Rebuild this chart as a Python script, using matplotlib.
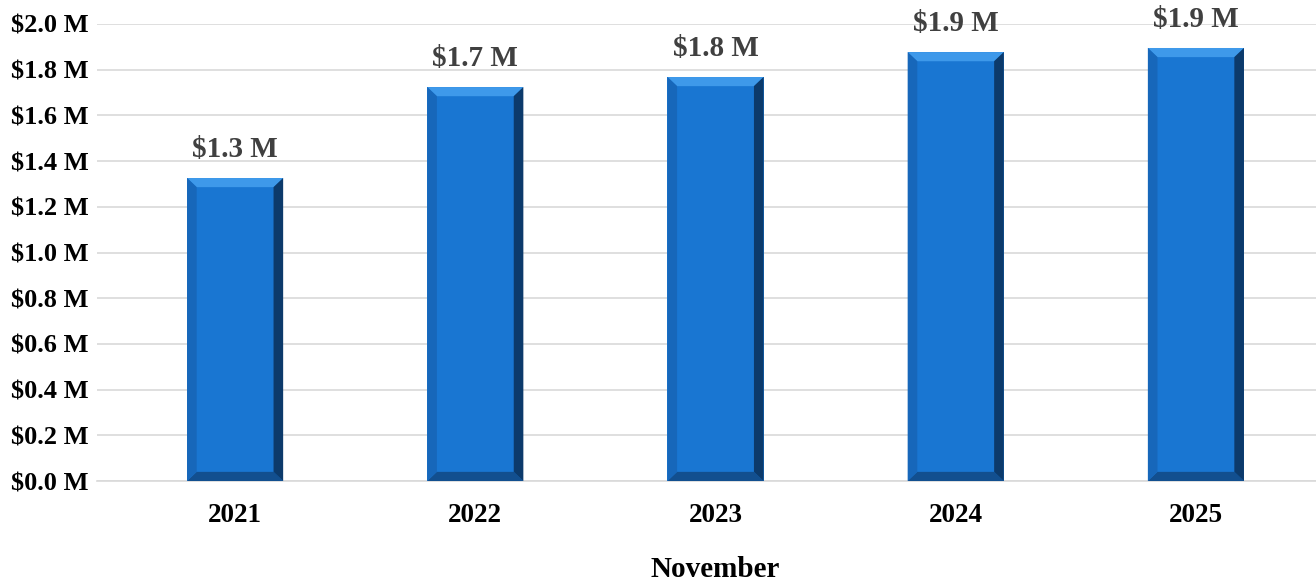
import matplotlib.pyplot as plt
from matplotlib.patches import Polygon

# November sales by year, in millions of dollars
years = ["2021", "2022", "2023", "2024", "2025"]
sales = [1.326, 1.724, 1.768, 1.877, 1.895]
y_ticks = [0.0, 0.2, 0.4, 0.6, 0.8, 1.0, 1.2, 1.4, 1.6, 1.8, 2.0]

plt.rcParams['font.family'] = ['Liberation Serif', 'DejaVu Serif']

fig = plt.figure(figsize=(13.16, 5.82), dpi=100)
ax = fig.add_axes([97 / 1316, 1 - 481 / 582, 1219 / 1316, 457 / 582])

x = range(len(years))
bars = ax.bar(x, sales, width=0.4, color="#1976D2", zorder=3)

# bevelled edges on each bar
bx, by = 0.04, 0.04
for rect in bars:
    x0 = rect.get_x()
    x1 = x0 + rect.get_width()
    h = rect.get_height()
    faces = [
        ([(x0, h), (x1, h), (x1 - bx, h - by), (x0 + bx, h - by)], "#3E99EA"),
        ([(x0, 0), (x1, 0), (x1 - bx, by), (x0 + bx, by)], "#124F8F"),
        ([(x0, 0), (x0, h), (x0 + bx, h - by), (x0 + bx, by)], "#1767BA"),
        ([(x1, 0), (x1, h), (x1 - bx, h - by), (x1 - bx, by)], "#0C3A6B"),
    ]
    for pts, c in faces:
        ax.add_patch(Polygon(pts, closed=True, facecolor=c, edgecolor="none", zorder=4))

for xi, v in zip(x, sales):
    ax.text(xi, v + 0.065, f"${v:.1f} M", ha="center", va="bottom",
            fontsize=21, fontweight="bold", color="#404040")

ax.set_xlim(-0.575, 4.5)
ax.set_ylim(0, 2.0)
ax.set_yticks(y_ticks)
ax.set_yticklabels([f"${t:.1f} M" for t in y_ticks], fontsize=19, fontweight="bold")
ax.set_xticks(list(x))
ax.set_xticklabels(years, fontsize=19.5, fontweight="bold")
ax.tick_params(axis="both", length=0)
ax.tick_params(axis="y", pad=6)
ax.tick_params(axis="x", pad=16)
ax.set_xlabel("November", fontsize=21, fontweight="bold")
# centre the axis title under the bars
ax.xaxis.set_label_coords(ax.transAxes.inverted().transform(ax.transData.transform((2, 0)))[0], -0.165)

ax.yaxis.grid(True, color="#D9D9D9", linewidth=1.2, zorder=0)
ax.set_axisbelow(True)
for s in ["top", "right", "left"]:
    ax.spines[s].set_visible(False)
ax.spines["bottom"].set_color("#D9D9D9")
ax.spines["bottom"].set_linewidth(1.2)

fig.savefig("out.png", dpi=100)
